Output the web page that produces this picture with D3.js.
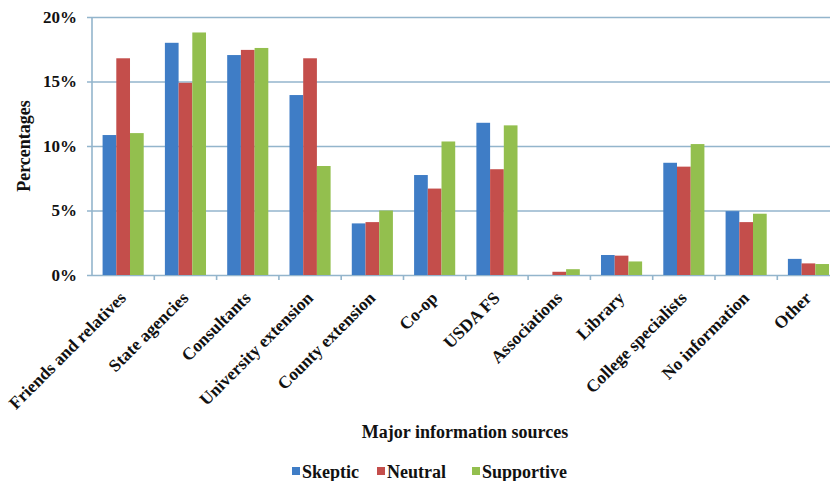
<!DOCTYPE html>
<html>
<head>
<meta charset="utf-8">
<script src="https://cdn.jsdelivr.net/npm/d3@7"></script>
<style>
  body { margin: 0; background: #fff; }
  svg { display: block; }
</style>
</head>
<body>
<svg id="chart" width="830" height="481" font-family="Liberation Serif"></svg>
<script>
// data (percent)
const categories = ["Friends and relatives", "State agencies", "Consultants", "University extension",
  "County extension", "Co-op", "USDA FS", "Associations", "Library", "College specialists",
  "No information", "Other"];
const seriesNames = ["Skeptic", "Neutral", "Supportive"];
const skeptic    = [10.85, 18.0, 17.05, 13.95, 4.0, 7.75, 11.8, 0.0, 1.55, 8.7, 4.95, 1.25];
const neutral    = [16.8, 14.9, 17.45, 16.8, 4.1, 6.7, 8.2, 0.25, 1.5, 8.4, 4.1, 0.9];
const supportive = [11.0, 18.8, 17.6, 8.45, 5.0, 10.35, 11.6, 0.45, 1.05, 10.15, 4.75, 0.85];
const yTicks = [0, 5, 10, 15, 20];
const colors = ["#3F7DC6", "#C44E4B", "#93BF4E"];

const ctx = { left: 92, top: 17, bottom: 275, step: 62.3, font: "Liberation Serif", ink: "#111" };
ctx.right = ctx.left + categories.length * ctx.step;

const svg = d3.select("#chart");
const values = [skeptic, neutral, supportive];

const x0 = d3.scaleBand().domain(categories).range([ctx.left, ctx.right])
  .paddingInner(0.34).paddingOuter(0.17);
const x1 = d3.scaleBand().domain(seriesNames).range([0, x0.bandwidth()]);
const y = d3.scaleLinear().domain([0, 20]).range([ctx.bottom, ctx.top]);

// gridlines + y labels
const yAxis = svg.append("g")
  .attr("transform", `translate(${ctx.left},0)`)
  .call(d3.axisLeft(y).tickValues(yTicks).tickSize(-(ctx.right - ctx.left)).tickPadding(15)
    .tickFormat(d => d + "%"));
yAxis.attr("font-family", ctx.font);
yAxis.select(".domain").remove();
yAxis.selectAll(".tick line").attr("stroke", "#93B5CC").attr("stroke-width", 1.6).attr("x1", -5);
yAxis.selectAll(".tick text").attr("font-size", 17).attr("font-weight", "bold").attr("fill", ctx.ink);

// vertical axis line
svg.append("line")
  .attr("x1", ctx.left).attr("x2", ctx.left)
  .attr("y1", y(20)).attr("y2", y(0))
  .attr("stroke", "#93B5CC").attr("stroke-width", 1.6);

// category tick marks between groups
const bounds = d3.range(categories.length + 1).map(i => ctx.left + i * ctx.step);
svg.append("g").selectAll("line").data(bounds.slice(1)).enter().append("line")
  .attr("x1", d => d).attr("x2", d => d)
  .attr("y1", y(0)).attr("y2", y(0) + 5)
  .attr("stroke", "#93B5CC").attr("stroke-width", 1.6);

// bars
const groups = svg.append("g").selectAll("g").data(categories).enter().append("g")
  .attr("transform", d => `translate(${x0(d)},0)`);
groups.selectAll("rect")
  .data((c, i) => seriesNames.map((s, j) => ({ s: s, v: values[j][i], j: j })))
  .enter().append("rect")
  .attr("x", d => x1(d.s))
  .attr("width", x1.bandwidth())
  .attr("y", d => y(d.v))
  .attr("height", d => y(0) - y(d.v))
  .attr("fill", d => colors[d.j]);

// category labels, rotated
svg.append("g").selectAll("text").data(categories).enter().append("text")
  .attr("transform", d => `translate(${x0(d) + x0.bandwidth() / 2 + 4},${ctx.bottom + 24}) rotate(-45)`)
  .attr("text-anchor", "end")
  .attr("font-size", 17.5)
  .attr("font-weight", "bold")
  .attr("fill", ctx.ink)
  .text(d => d);

// axis titles
svg.append("text")
  .attr("transform", `translate(30,${(y(0) + y(20)) / 2}) rotate(-90)`)
  .attr("text-anchor", "middle")
  .attr("font-size", 18)
  .attr("font-weight", "bold")
  .attr("fill", ctx.ink)
  .text("Percentages");

svg.append("text")
  .attr("x", 465).attr("y", 438)
  .attr("text-anchor", "middle")
  .attr("font-size", 18)
  .attr("font-weight", "bold")
  .attr("fill", ctx.ink)
  .text("Major information sources");

// legend
const legendX = [292, 377, 472];
const legend = svg.append("g").selectAll("g").data(seriesNames).enter().append("g")
  .attr("transform", (d, i) => `translate(${legendX[i]},472)`);
legend.append("rect")
  .attr("x", 0).attr("y", -5).attr("width", 8).attr("height", 8)
  .attr("fill", (d, i) => colors[i]);
legend.append("text")
  .attr("x", 10).attr("y", 6)
  .attr("font-size", 18)
  .attr("font-weight", "bold")
  .attr("fill", ctx.ink)
  .text(d => d);
</script>
</body>
</html>
